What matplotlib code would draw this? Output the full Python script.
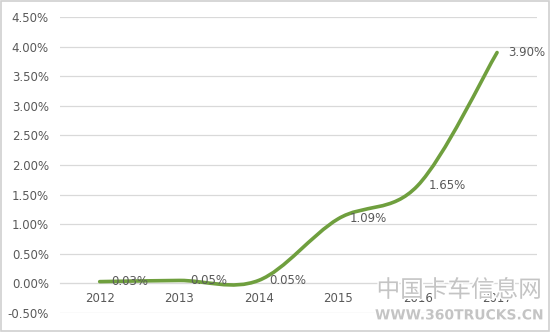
import matplotlib
matplotlib.use("Agg")
import matplotlib.pyplot as plt
from matplotlib.path import Path
from matplotlib.patches import PathPatch, Rectangle
import matplotlib.patheffects as pe
from matplotlib.ticker import FuncFormatter

# data
years = ['2012', '2013', '2014', '2015', '2016', '2017']
share = [0.03, 0.05, 0.05, 1.09, 1.65, 3.90]   # percent
label_text = ['0.03%', '0.05%', '0.05%', '1.09%', '1.65%', '3.90%']
yticks = [-0.5, 0, 0.5, 1.0, 1.5, 2.0, 2.5, 3.0, 3.5, 4.0, 4.5]

GRAY_TXT = '#595959'
GRID = '#d9d9d9'
LINE = '#6f9f3e'


def smooth_path(xs, ys):
    """Excel-like smoothed line: Catmull-Rom segments turned into cubic Beziers"""
    pts = list(zip(xs, ys))
    n = len(pts)
    verts = [pts[0]]
    codes = [Path.MOVETO]
    for i in range(n - 1):
        p0 = pts[max(i - 1, 0)]
        p1 = pts[i]
        p2 = pts[i + 1]
        p3 = pts[min(i + 2, n - 1)]
        c1 = (p1[0] + (p2[0] - p0[0]) / 6, p1[1] + (p2[1] - p0[1]) / 6)
        c2 = (p2[0] - (p3[0] - p1[0]) / 6, p2[1] - (p3[1] - p1[1]) / 6)
        verts += [c1, c2, p2]
        codes += [Path.CURVE4] * 3
    return Path(verts, codes)


fig = plt.figure(figsize=(5.5, 3.32), dpi=100)
ax = fig.add_axes([0.109, 0.0572, 0.867, 0.8916])

x = list(range(len(years)))
ax.add_patch(PathPatch(smooth_path(x, share), facecolor='none',
                       edgecolor=LINE, lw=2.6, capstyle='round', zorder=3))

for xi, yi, t in zip(x, share, label_text):
    ax.annotate(t, (xi, yi), xytext=(8, 0), textcoords='offset points',
                ha='left', va='center', fontsize=8.5, color=GRAY_TXT, zorder=4)

ax.set_xlim(-0.5, len(years) - 0.5)
ax.set_ylim(-0.5, 4.5)
ax.set_yticks(yticks)
ax.yaxis.set_major_formatter(FuncFormatter(lambda v, p: '%.2f%%' % v))
ax.set_xticks(x)
ax.set_xticklabels(years)
ax.grid(axis='y', color=GRID, lw=0.9)
ax.set_axisbelow(True)

for s in ['top', 'right', 'left']:
    ax.spines[s].set_visible(False)
ax.spines['bottom'].set_position(('data', 0))
ax.spines['bottom'].set_color(GRID)
ax.tick_params(axis='both', length=0, labelsize=8.5, labelcolor=GRAY_TXT)
ax.tick_params(axis='y', pad=8)
ax.tick_params(axis='x', pad=6)

# chart area border
fig.add_artist(Rectangle((0.002, 0.003), 0.996, 0.994, transform=fig.transFigure,
                         fill=False, edgecolor='#d0d0d0', lw=1.2))

# site watermark
wm = [pe.withStroke(linewidth=2, foreground='white')]
fig.text(0.835, 0.125, '中国卡车信息网', fontsize=17, color='#c4c4c4',
         family=['Noto Sans CJK SC', 'DejaVu Sans'], ha='center', va='center',
         path_effects=wm)
fig.text(0.835, 0.05, 'WWW.360TRUCKS.CN', fontsize=10, color='#c4c4c4',
         weight='bold', ha='center', va='center', path_effects=wm)

fig.savefig('out.png', dpi=100)
